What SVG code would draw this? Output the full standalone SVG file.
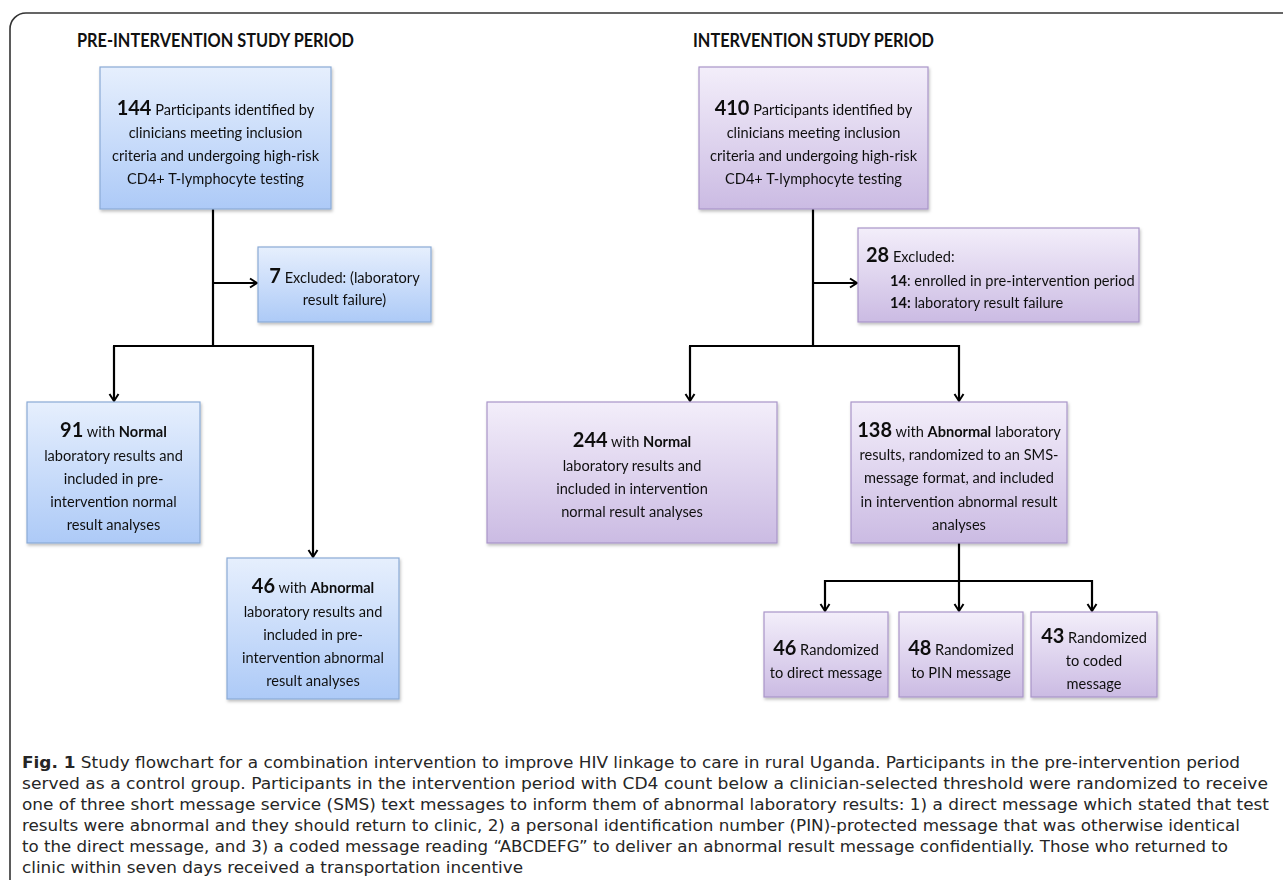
<svg xmlns="http://www.w3.org/2000/svg" width="1283" height="880" viewBox="0 0 1283 880">
<style>
.t{font-family:Lato,"Open Sans","Liberation Sans",sans-serif;font-size:14.6px;fill:#111;text-anchor:middle}
.l{text-anchor:start}
.b{font-weight:bold}
.n{font-weight:bold;font-size:20px}
.h{font-family:Lato,"Open Sans","Liberation Sans",sans-serif;font-weight:bold;font-size:19px;fill:#111}
.cap{font-family:"DejaVu Sans Condensed","Liberation Sans Narrow","Liberation Sans",sans-serif;font-stretch:condensed;font-size:16.5px;fill:#262626}
.blue{fill:url(#gb);stroke:#8aaad6;stroke-width:1.2}
.purp{fill:url(#gp);stroke:#a995c9;stroke-width:1.2}
.c{fill:none;stroke:#000;stroke-width:2.2}
.a{marker-end:url(#ar)}
</style>
<defs>
<linearGradient id="gb" x1="0" y1="0" x2="0" y2="1"><stop offset="0" stop-color="#e6effd"/><stop offset="1" stop-color="#adcaf7"/></linearGradient>
<linearGradient id="gp" x1="0" y1="0" x2="0" y2="1"><stop offset="0" stop-color="#f3eefa"/><stop offset="1" stop-color="#cbbbe3"/></linearGradient>
<filter id="sh" x="-5%" y="-5%" width="115%" height="120%"><feDropShadow dx="1" dy="2" stdDeviation="1.5" flood-color="#000" flood-opacity="0.25"/></filter>
<marker id="ar" markerWidth="12" markerHeight="12" refX="9" refY="6" orient="auto" markerUnits="userSpaceOnUse"><path d="M2,1.5 L9,6 L2,10.5" fill="none" stroke="#000" stroke-width="2"/></marker>
</defs>
<rect x="10" y="13" width="1320" height="920" rx="16" fill="#fff" stroke="#333" stroke-width="1.6"/>
<text class="h" x="77" y="47" textLength="277" lengthAdjust="spacingAndGlyphs">PRE-INTERVENTION STUDY PERIOD</text>
<text class="h" x="693" y="47" textLength="241" lengthAdjust="spacingAndGlyphs">INTERVENTION STUDY PERIOD</text>
<g id="connectors">
<path class="c" d="M213,209 V346"/>
<path class="c a" d="M213,283 H257"/>
<path class="c a" d="M114,346 V401"/>
<path class="c" d="M113,346 H313"/>
<path class="c a" d="M313,345 V557"/>
<path class="c" d="M813,209 V346"/>
<path class="c a" d="M813,283 H857"/>
<path class="c a" d="M690,346 V401"/>
<path class="c" d="M689,346 H959"/>
<path class="c a" d="M959,345 V401"/>
<path class="c" d="M959,543 V581"/>
<path class="c" d="M824,581 H1093"/>
<path class="c a" d="M825,580 V611"/>
<path class="c a" d="M959,581 V611"/>
<path class="c a" d="M1092,580 V611"/>
</g>
<g id="pre-total" filter="url(#sh)"><rect class="blue" x="100" y="67" width="231" height="142"/>
<text class="t" x="215.5" y="115"><tspan class="n">144</tspan> Participants identified by</text>
<text class="t" x="215.5" y="138">clinicians meeting inclusion</text>
<text class="t" x="215.5" y="161">criteria and undergoing high-risk</text>
<text class="t" x="215.5" y="184">CD4+ T-lymphocyte testing</text></g>
<g id="pre-excluded" filter="url(#sh)"><rect class="blue" x="258" y="247" width="173" height="75"/>
<text class="t" x="344.5" y="283"><tspan class="n">7</tspan> Excluded: (laboratory</text>
<text class="t" x="344.5" y="305">result failure)</text></g>
<g id="pre-normal" filter="url(#sh)"><rect class="blue" x="27" y="402" width="173" height="141"/>
<text class="t" x="113.5" y="437"><tspan class="n">91</tspan> with <tspan class="b">Normal</tspan></text>
<text class="t" x="113.5" y="461">laboratory results and</text>
<text class="t" x="113.5" y="484">included in pre-</text>
<text class="t" x="113.5" y="507">intervention normal</text>
<text class="t" x="113.5" y="530">result analyses</text></g>
<g id="pre-abnormal" filter="url(#sh)"><rect class="blue" x="227" y="558" width="172" height="141"/>
<text class="t" x="313" y="593"><tspan class="n">46</tspan> with <tspan class="b">Abnormal</tspan></text>
<text class="t" x="313" y="617">laboratory results and</text>
<text class="t" x="313" y="640">included in pre-</text>
<text class="t" x="313" y="663">intervention abnormal</text>
<text class="t" x="313" y="686">result analyses</text></g>
<g id="int-total" filter="url(#sh)"><rect class="purp" x="699" y="67" width="229" height="142"/>
<text class="t" x="813.5" y="115"><tspan class="n">410</tspan> Participants identified by</text>
<text class="t" x="813.5" y="138">clinicians meeting inclusion</text>
<text class="t" x="813.5" y="161">criteria and undergoing high-risk</text>
<text class="t" x="813.5" y="184">CD4+ T-lymphocyte testing</text></g>
<g id="int-excluded" filter="url(#sh)"><rect class="purp" x="858" y="228" width="281" height="94"/>
<text class="t l" x="866" y="262"><tspan class="n">28</tspan> Excluded:</text>
<text class="t l" x="890" y="286"><tspan class="b">14</tspan>: enrolled in pre-intervention period</text>
<text class="t l" x="890" y="308"><tspan class="b">14:</tspan> laboratory result failure</text></g>
<g id="int-normal" filter="url(#sh)"><rect class="purp" x="487" y="402" width="290" height="141"/>
<text class="t" x="632" y="447"><tspan class="n">244</tspan> with <tspan class="b">Normal</tspan></text>
<text class="t" x="632" y="471">laboratory results and</text>
<text class="t" x="632" y="494">included in intervention</text>
<text class="t" x="632" y="517">normal result analyses</text></g>
<g id="int-abnormal" filter="url(#sh)"><rect class="purp" x="851" y="402" width="216" height="141"/>
<text class="t" x="959" y="437"><tspan class="n">138</tspan> with <tspan class="b">Abnormal</tspan> laboratory</text>
<text class="t" x="959" y="460">results, randomized to an SMS-</text>
<text class="t" x="959" y="483">message format, and  included</text>
<text class="t" x="959" y="507">in intervention abnormal result</text>
<text class="t" x="959" y="530">analyses</text></g>
<g id="direct" filter="url(#sh)"><rect class="purp" x="764" y="612" width="124" height="85"/>
<text class="t" x="826" y="655"><tspan class="n">46</tspan> Randomized</text>
<text class="t" x="826" y="678">to direct message</text></g>
<g id="pin" filter="url(#sh)"><rect class="purp" x="899" y="612" width="124" height="85"/>
<text class="t" x="961" y="655"><tspan class="n">48</tspan> Randomized</text>
<text class="t" x="961" y="678">to PIN message</text></g>
<g id="coded" filter="url(#sh)"><rect class="purp" x="1031" y="612" width="126" height="85"/>
<text class="t" x="1094" y="643"><tspan class="n">43</tspan> Randomized</text>
<text class="t" x="1094" y="666">to coded</text>
<text class="t" x="1094" y="689">message</text></g>
<g id="caption">
<text class="cap" x="22" y="768" textLength="1218" lengthAdjust="spacingAndGlyphs"><tspan font-weight="bold">Fig. 1</tspan> Study flowchart for a combination intervention to improve HIV linkage to care in rural Uganda. Participants in the pre-intervention period</text>
<text class="cap" x="22" y="789" textLength="1246" lengthAdjust="spacingAndGlyphs">served as a control group. Participants in the intervention period with CD4 count below a clinician-selected threshold were randomized to receive</text>
<text class="cap" x="22" y="810" textLength="1247" lengthAdjust="spacingAndGlyphs">one of three short message service (SMS) text messages to inform them of abnormal laboratory results: 1) a direct message which stated that test</text>
<text class="cap" x="22" y="831" textLength="1218" lengthAdjust="spacingAndGlyphs">results were abnormal and they should return to clinic, 2) a personal identification number (PIN)-protected message that was otherwise identical</text>
<text class="cap" x="22" y="852" textLength="1206" lengthAdjust="spacingAndGlyphs">to the direct message, and 3) a coded message reading “ABCDEFG” to deliver an abnormal result message confidentially. Those who returned to</text>
<text class="cap" x="22" y="873" textLength="501" lengthAdjust="spacingAndGlyphs">clinic within seven days received a transportation incentive</text>
</g>
</svg>
